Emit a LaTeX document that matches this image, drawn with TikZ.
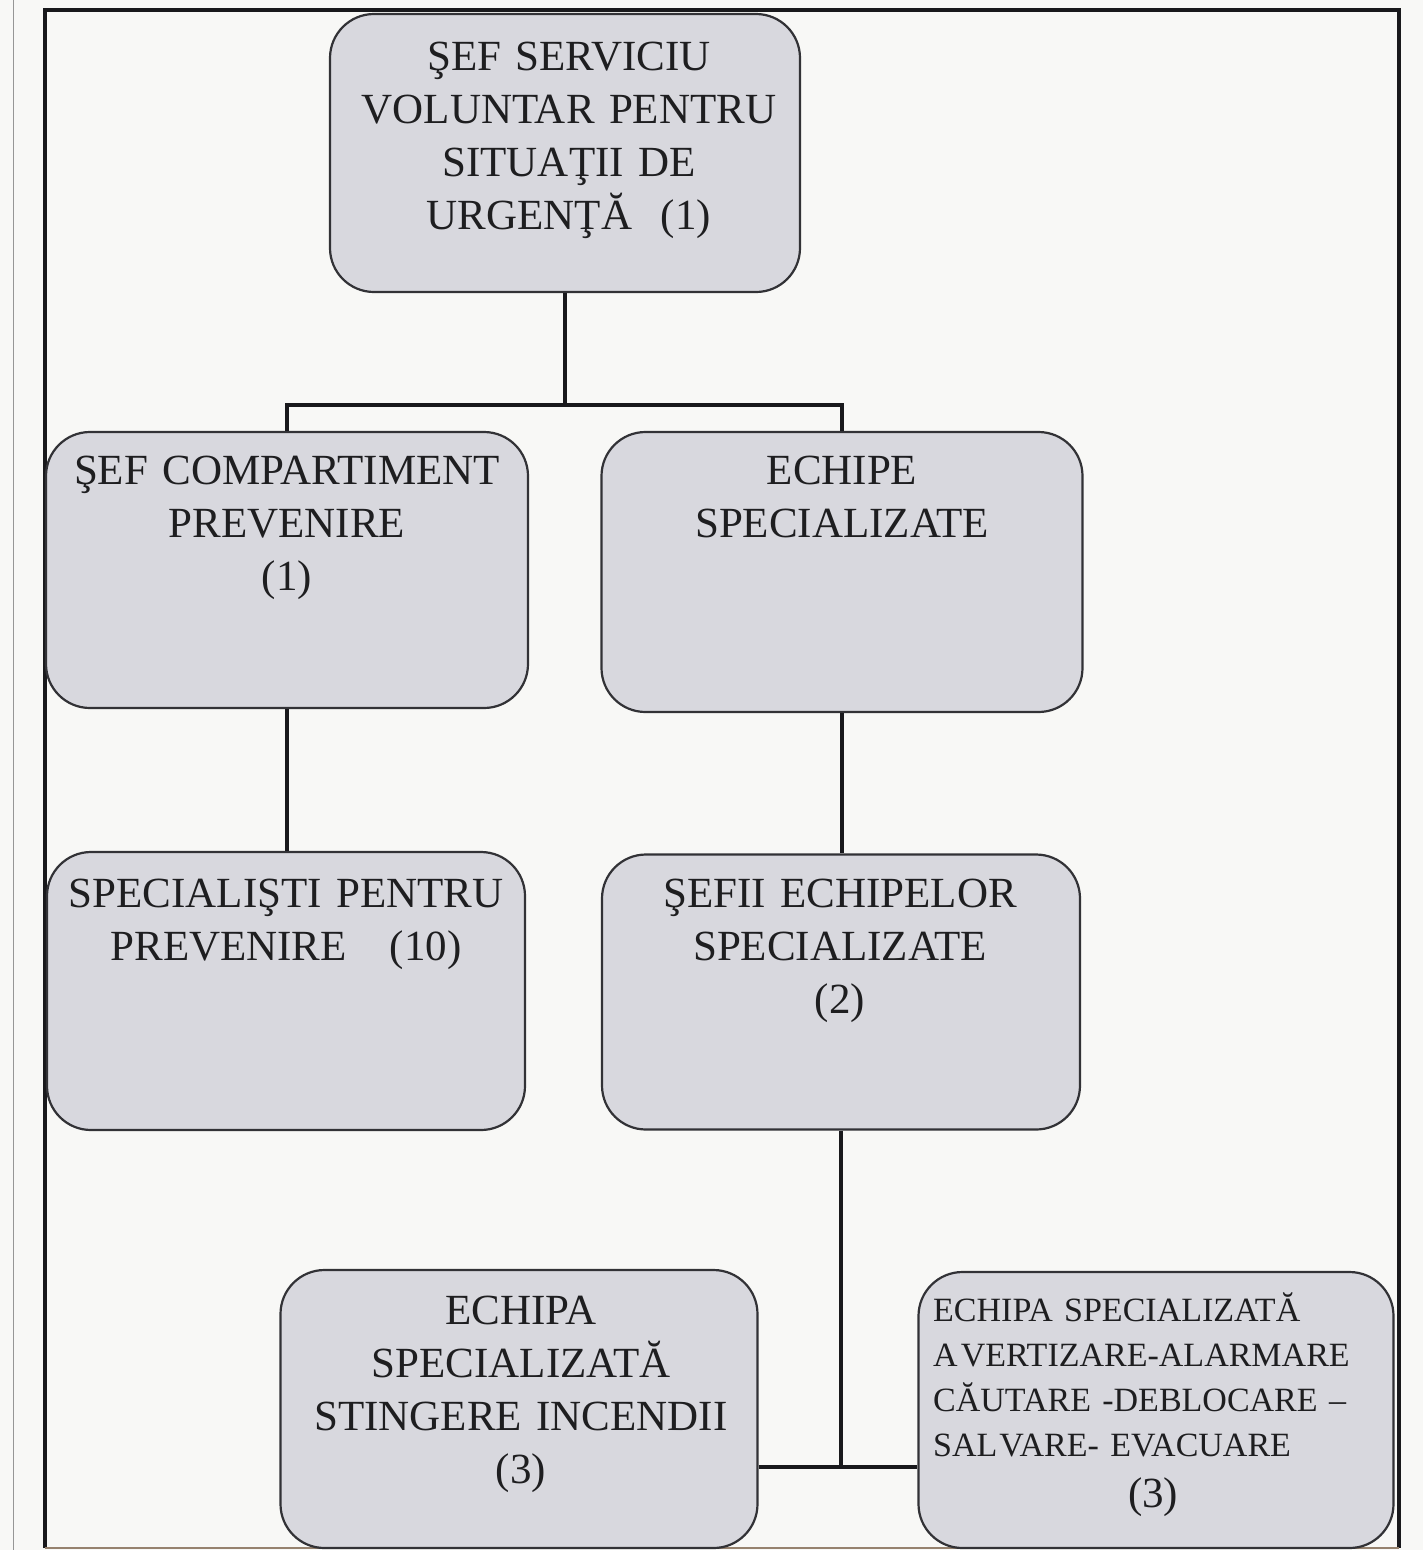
\documentclass[tikz,border=0pt]{standalone}
\usepackage{fontspec}
\setmainfont{Liberation Serif}
\definecolor{pagebg}{RGB}{248,248,246}
\definecolor{boxfill}{RGB}{216,216,222}
\definecolor{boxline}{RGB}{50,50,54}
\definecolor{lineclr}{RGB}{25,25,28}
\definecolor{txtclr}{RGB}{30,30,32}
\definecolor{scanline}{RGB}{150,150,150}
\definecolor{bottomline}{RGB}{150,130,110}
\begin{document}
\begin{tikzpicture}[x=1pt,y=-1pt,
  orgbox/.style={draw=boxline, line width=2.2pt, fill=boxfill, rounded corners=44pt, inner sep=0pt},
  lbl/.style={inner sep=0pt, align=center, text=txtclr, anchor=base, font=\fontsize{43}{53}\selectfont},
  conn/.style={draw=lineclr, line width=4.8pt}]
\useasboundingbox (0,0) rectangle (1423,1550);
\fill[pagebg] (0,0) rectangle (1423,1550);
% scan margin line and outer frame
\draw[scanline, line width=1pt] (13,0) -- (13,1550);
\draw[lineclr, line width=4.5pt] (45,1548) -- (45,10) -- (1399,10) -- (1399,1548);
\draw[bottomline, line width=1.5pt] (45,1548) -- (1399,1548);
% boxes
\node[orgbox, minimum width=470pt, minimum height=278pt] (b1) at (565,153) {};
\node[orgbox, minimum width=482pt, minimum height=276pt] (b2) at (287,570) {};
\node[orgbox, minimum width=481pt, minimum height=280pt] (b3) at (842,572) {};
\node[orgbox, minimum width=478pt, minimum height=278pt] (b4) at (286,991) {};
\node[orgbox, minimum width=478pt, minimum height=275pt] (b5) at (841,992) {};
\node[orgbox, minimum width=477pt, minimum height=278pt] (b6) at (519,1409) {};
\node[orgbox, minimum width=475pt, minimum height=276pt] (b7) at (1156,1410) {};
% connectors
\coordinate (j1) at (567,405);
\coordinate (j2) at (840,1467);
\draw[conn] (b1.south) -- (b1.south |- j1);
\draw[conn] (b2.north) |- (j1) -| (b3.north);
\draw[conn] (b2.south) -- (b2.south |- b4.north);
\draw[conn] (b3.south) -- (b3.south |- b5.north);
\draw[conn] (b5.south) -- (b5.south |- j2);
\draw[conn] (b6.east |- j2) -- (b7.west |- j2);
% texts
\node[lbl, text width=470pt] (t1) at (569,70) {ŞEF SERVICIU\\VOLUNTAR PENTRU\\SITUAŢII DE\\URGENŢĂ\ \ (1)};
\node[lbl, text width=480pt] (t2) at (287,484) {ŞEF COMPARTIMENT\\PREVENIRE\\(1)};
\node[lbl, text width=480pt] (t3) at (842,484) {ECHIPE\\SPECIALIZATE};
\node[lbl, text width=480pt] (t4) at (286,907) {SPECIALIŞTI PENTRU\\PREVENIRE\ \ \ (10)};
\node[lbl, text width=480pt] (t5) at (840,907) {ŞEFII ECHIPELOR\\SPECIALIZATE\\(2)};
\node[lbl, text width=480pt] (t6) at (521,1324) {ECHIPA\\SPECIALIZATĂ\\STINGERE INCENDII\\(3)};
\node[lbl, text width=460pt, align=left, anchor=base west, font=\fontsize{34}{45}\selectfont] (t7) at (933,1321)
  {ECHIPA SPECIALIZATĂ\\A\kern3pt VERTIZARE-ALARMARE\\CĂUTARE -DEBLOCARE –\\SAL\kern2pt VARE- EVACUARE\\[6pt]{\fontsize{43}{45}\selectfont\makebox[440pt][c]{(3)}}};
\end{tikzpicture}
\end{document}
